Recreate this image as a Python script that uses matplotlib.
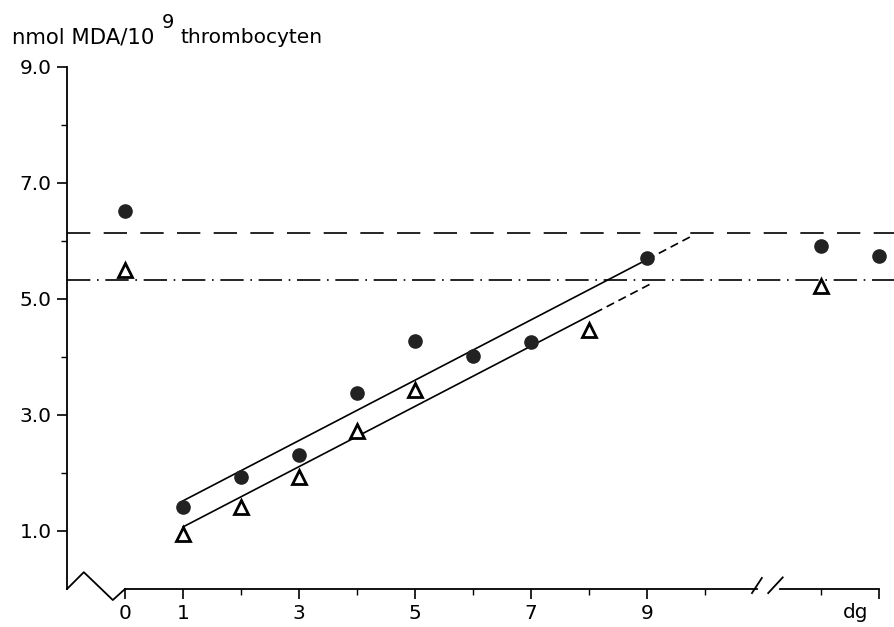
import matplotlib
matplotlib.use("Agg")
import matplotlib.pyplot as plt

plt.rcParams['font.family'] = ['DejaVu Sans']

# meetpunten (dagen, nmol MDA / 10^9 thrombocyten)
dag_bol = [0, 1, 2, 3, 4, 5, 6, 7, 9, 12, 13]
mda_bol = [6.52, 1.41, 1.93, 2.31, 3.38, 4.28, 4.02, 4.26, 5.71, 5.91, 5.74]
dag_drie = [0, 1, 2, 3, 4, 5, 8, 12]
mda_drie = [5.50, 0.95, 1.41, 1.93, 2.72, 3.43, 4.47, 5.22]

# regressielijnen (doorgetrokken deel + gestippelde verlenging)
fit_bol_x = [1, 9]
fit_bol_y = [1.52, 5.68]
ext_bol_x = [9, 9.8]
ext_bol_y = [5.68, 6.10]
fit_drie_x = [1, 8.1]
fit_drie_y = [1.07, 4.76]
ext_drie_x = [8.1, 9.1]
ext_drie_y = [4.76, 5.28]

# normaalwaarden
norm_bol = 6.14
norm_drie = 5.33

y_major = [1, 3, 5, 7, 9]
y_labels = ["1.0", "3.0", "5.0", "7.0", "9.0"]
y_minor = [2, 4, 6, 8]
x_major = [0, 1, 3, 5, 7, 9, 13]
x_labels = ["0", "1", "3", "5", "7", "9", ""]
x_minor = [2, 4, 6, 8, 10, 12]

fig = plt.figure(figsize=(8.95, 6.27), dpi=100)
ax = fig.add_axes([0, 0, 1, 1])
ax.set_xlim(-125 / 58, 770 / 58)
ax.set_ylim(-38 / 58, 589 / 58)

for s in ["top", "right"]:
    ax.spines[s].set_visible(False)
ax.spines["left"].set_position(("data", -1))
ax.spines["left"].set_bounds(0, 9)
ax.spines["bottom"].set_position(("data", 0))
ax.spines["bottom"].set_bounds(0, 10.9)
for s in ["left", "bottom"]:
    ax.spines[s].set_linewidth(1.3)

ax.set_yticks(y_major, labels=y_labels)
ax.set_yticks(y_minor, minor=True)
ax.set_xticks(x_major, labels=x_labels)
ax.set_xticks(x_minor, minor=True)
ax.tick_params(which="major", direction="out", length=7, width=1.2, labelsize=14.5, pad=4)
ax.tick_params(which="minor", direction="out", length=4, width=1.0)

# as-onderbrekingen
ax.plot([-1, -0.71, -0.21, 0], [0, 0.29, -0.19, 0], color="k", lw=1.3, clip_on=False)
ax.plot([10.81, 10.98], [-0.07, 0.19], color="k", lw=1.3)
ax.plot([11.09, 11.34], [-0.07, 0.2], color="k", lw=1.3)
ax.plot([11.3, 13.0], [0, 0], color="k", lw=1.3)

# normaalwaarden
ax.plot([-1, 13.4], [norm_bol, norm_bol], color="k", lw=1.2, ls=(0, (14, 8)))
ax.plot([-1, 13.4], [norm_drie, norm_drie], color="k", lw=1.2, ls=(0, (14, 4, 1, 4)))

# regressielijnen
ax.plot(fit_bol_x, fit_bol_y, color="k", lw=1.2)
ax.plot(ext_bol_x, ext_bol_y, color="k", lw=1.2, ls=(0, (5, 3)))
ax.plot(fit_drie_x, fit_drie_y, color="k", lw=1.2)
ax.plot(ext_drie_x, ext_drie_y, color="k", lw=1.2, ls=(0, (5, 3)))

ax.plot(dag_bol, mda_bol, ls="none", marker="o", ms=9.5, color="#222222", zorder=5)
ax.plot(dag_drie, mda_drie, ls="none", marker="^", ms=9.5, mfc="white", mec="k", mew=2, zorder=5)

# as-titel met grote exponent
ax.text(-1.95, 9.41, "nmol MDA/10", fontsize=15.3, va="baseline", ha="left")
ax.text(0.64, 9.67, "9", fontsize=14, va="baseline", ha="left")
ax.text(0.95, 9.41, "thrombocyten", fontsize=14.5, va="baseline", ha="left")
ax.text(12.59, -0.41, "dg", fontsize=14.5, va="center", ha="center")

fig.savefig("out.png", dpi=100)
